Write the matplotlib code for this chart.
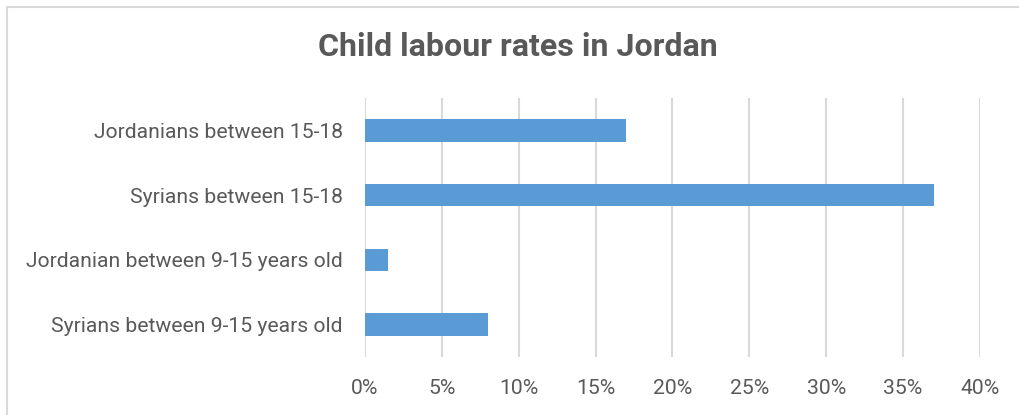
import matplotlib
matplotlib.use("Agg")
import matplotlib.pyplot as plt
from matplotlib.patches import Rectangle
from matplotlib.ticker import PercentFormatter

# dados
categorias = ["Jordanians between 15-18",
              "Syrians between 15-18",
              "Jordanian between 9-15 years old",
              "Syrians between 9-15 years old"]
taxas = [17, 37, 1.5, 8]
ticks_x = [0, 5, 10, 15, 20, 25, 30, 35, 40]

plt.rcParams['font.family'] = ['Roboto', 'DejaVu Sans']
cinza = '#595959'

fig = plt.figure(figsize=(10.2, 4.15), dpi=100)
ax = fig.add_axes([365/1020, 1 - 357/415, 615/1020, 259/415])

# borda do gráfico
fig.patches.append(Rectangle((7/1020, -0.1), 1.2, 1 - 7/415 + 0.1,
                             transform=fig.transFigure, fill=False,
                             edgecolor='#D9D9D9', linewidth=1.5))

ax.barh(range(len(categorias)), taxas, height=0.35, color='#5B9BD5', zorder=3)
ax.set_ylim(len(categorias) - 0.5, -0.5)
ax.set_yticks(range(len(categorias)))
ax.set_yticklabels(categorias)
ax.set_xlim(0, 40)
ax.set_xticks(ticks_x)
ax.xaxis.set_major_formatter(PercentFormatter(decimals=0))

ax.grid(axis='x', color='#D9D9D9', linewidth=1.5, zorder=0)
for s in ax.spines.values():
    s.set_visible(False)
ax.tick_params(axis='both', length=0, labelsize=15.2, labelcolor=cinza)
ax.tick_params(axis='y', pad=16)
ax.tick_params(axis='x', pad=16)

fig.text(518/1020, 1 - 47/415, 'Child labour rates in Jordan', ha='center', va='center',
         fontsize=23.1, fontweight='bold', color=cinza)

fig.savefig('out.png', dpi=100)
